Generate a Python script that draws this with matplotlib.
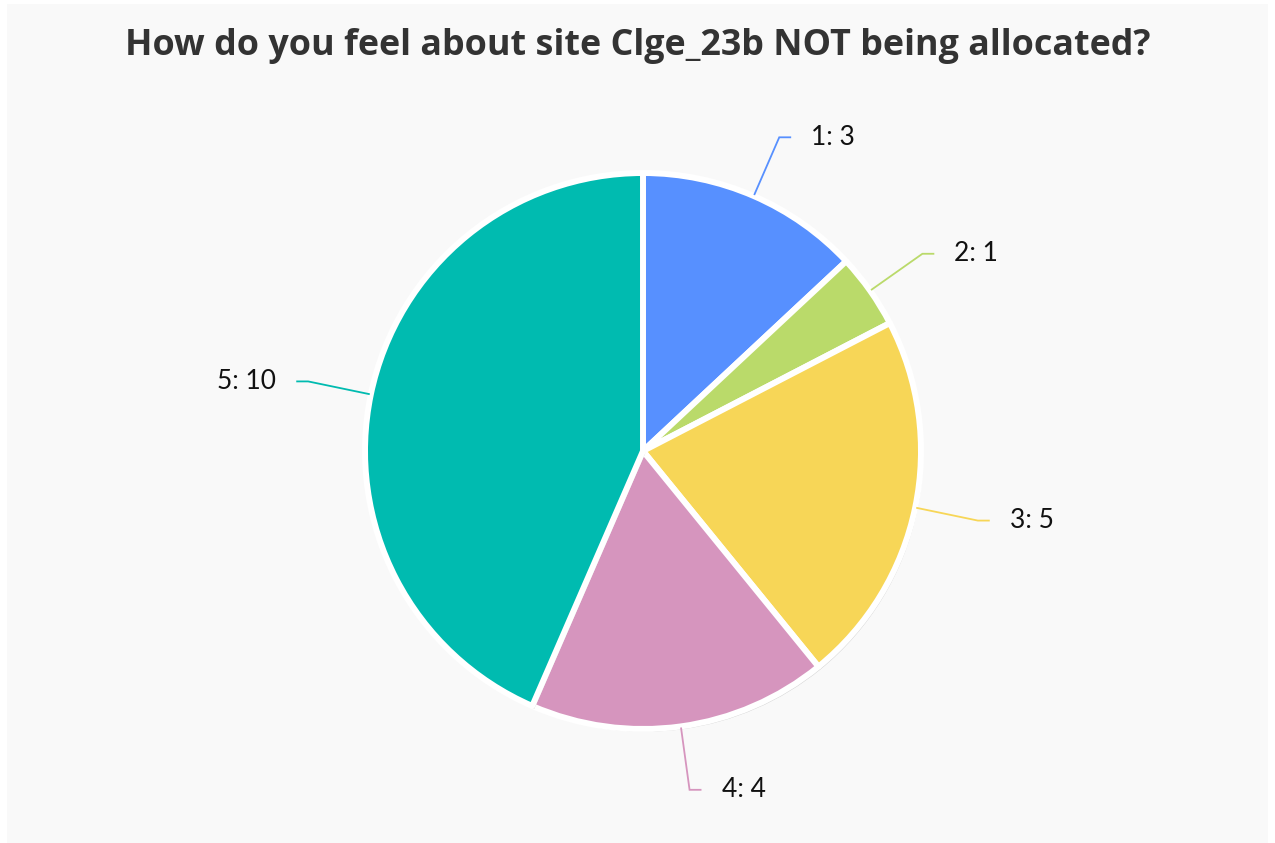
import numpy as np
import matplotlib.pyplot as plt
from matplotlib.patches import Rectangle
import matplotlib.patheffects as pe

# --- data ---
categories = ["1", "2", "3", "4", "5"]
counts = [3, 1, 5, 4, 10]
colors = ["#5790ff", "#bada6a", "#f7d657", "#d695be", "#00bbb0"]
title = "How do you feel about site Clge_23b NOT being allocated?"

W, H = 1275, 843
fig = plt.figure(figsize=(W / 100, H / 100), dpi=100, facecolor="white")
fig.patches.append(Rectangle((7 / W, 0), (W - 14) / W, (H - 4) / H,
                             transform=fig.transFigure, facecolor="#f9f9f9",
                             edgecolor="none", zorder=-5))

ax = fig.add_axes([0, 0, 1, 1])
ax.set_facecolor("none")
ax.set_zorder(2)

cx, cy, R = 643, H - 451, 278
wedges, _ = ax.pie(counts, colors=colors, startangle=90, counterclock=False,
                   center=(cx, cy), radius=R,
                   wedgeprops=dict(edgecolor="white", linewidth=4.3,
                                   joinstyle="round"))
for w in wedges:
    w.set_path_effects([pe.SimplePatchShadow(offset=(1.5, -2), shadow_rgbFace="#000000", alpha=0.15),
                        pe.Normal()])
ax.set_xlim(0, W)
ax.set_ylim(0, H)
ax.set_axis_off()

# leader lines + labels
total = sum(counts)
cum = 0
for cat, val, col in zip(categories, counts, colors):
    mid = np.deg2rad(90 - (cum + val / 2) / total * 360)
    cum += val
    dx, dy = np.cos(mid), np.sin(mid)
    p0 = (cx + dx * (R + 2), cy + dy * (R + 2))
    p1 = (cx + dx * 342, cy + dy * 342)
    side = 1 if dx >= 0 else -1
    p2 = (p1[0] + side * 11, p1[1])
    ax.plot([p0[0], p1[0], p2[0]], [p0[1], p1[1], p2[1]], color=col, lw=1.3,
            solid_joinstyle="miter")
    ax.text(p2[0] + side * 21, p2[1], f"{cat}: {val}", fontsize=19,
            family="Lato", color="#111111",
            ha="left" if side > 0 else "right", va="center")

fig.text(0.5, 1 - 46 / H, title, ha="center", va="center", fontsize=25.8,
         fontweight="bold", family="Open Sans", color="#333333")

fig.savefig("out.png", dpi=100, facecolor=fig.get_facecolor())
